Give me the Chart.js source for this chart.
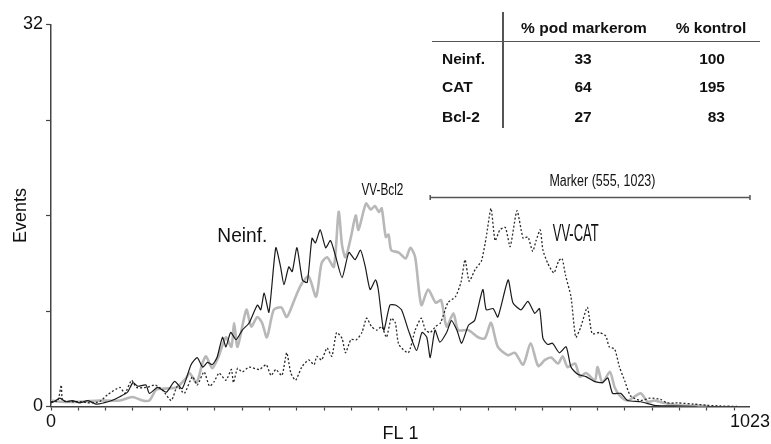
<!DOCTYPE html>
<html>
<head>
<meta charset="utf-8">
<script src="https://cdn.jsdelivr.net/npm/chart.js@4.4.0/dist/chart.umd.min.js"></script>
<style>
  html, body { margin: 0; padding: 0; background: #fff; }
  #wrap { position: relative; width: 771px; height: 444px; overflow: hidden; }
  #chart { position: absolute; left: 0; top: 0; }
  .tbl { position: absolute; font-family: 'Liberation Sans', Arial, sans-serif; font-weight: bold;
         font-size: 15.5px; color: #111; white-space: nowrap; line-height: 16px; }
  .c { transform: translateX(-50%); }
  .r { transform: translateX(-100%); }
  .line { position: absolute; background: #555; }
</style>
</head>
<body>
<div id="wrap">
  <canvas id="chart" width="771" height="444"></canvas>

  <div class="line" style="left:502px; top:12px; width:1.5px; height:116px;"></div>
  <div class="line" style="left:432px; top:40.5px; width:328px; height:1.5px;"></div>

  <div class="tbl c" style="left:584px; top:20px;">% pod markerom</div>
  <div class="tbl c" style="left:711px; top:20px;">% kontrol</div>

  <div class="tbl" style="left:442px; top:51px;">Neinf.</div>
  <div class="tbl c" style="left:583px; top:51px;">33</div>
  <div class="tbl r" style="left:725px; top:51px;">100</div>

  <div class="tbl" style="left:442px; top:79px;">CAT</div>
  <div class="tbl c" style="left:583px; top:79px;">64</div>
  <div class="tbl r" style="left:725px; top:79px;">195</div>

  <div class="tbl" style="left:442px; top:109px;">Bcl-2</div>
  <div class="tbl c" style="left:583px; top:109px;">27</div>
  <div class="tbl r" style="left:725px; top:109px;">83</div>
</div>

<script>
// FL1 histogram: uninfected vs VV-CAT vs VV-Bcl2

// Neinf. (solid black)
const neinfX = [0,7,13,22,31,42,54,66,77,89,100,112,120,127,139,144,156,169,181,192,205,214,222,229,236,243,251,256,263,271,280,290,302,307,312,319,329,336,341,348,353,360,368,375,382,387,394,402,409,416,426,436,445,453,460,467,475,479,487,496,504,513,523,535,543,550,555,562,569,579,586,594,601,611,620,632,637,647,654,669,676,688,698,708,715,720,727,734,744,754,761,771,783,795,807,815,822,834,844,863,883,902,946];
const neinfY = [0.3,0.5,0.7,0.4,0.5,0.3,0.5,0.2,0.3,0.5,0.8,1.2,2.0,1.7,1.8,1.1,1.6,1.2,2.1,1.5,3.5,4.1,3.3,3.7,3.5,4.1,5.8,5.0,6.2,5.6,6.4,7.0,8.5,8.1,9.5,7.9,13.3,11.7,10.2,11.7,11.3,13.3,10.6,10.4,14.1,13.7,14.8,13.3,13.9,12.7,10.8,12.9,12.3,13.1,11.7,9.8,10.6,9.8,6.4,8.5,8.5,8.1,6.4,4.7,6.2,5.8,4.1,6.4,5.4,6.2,7.2,6.4,5.3,6.8,7.2,9.8,8.1,8.2,7.5,10.6,8.7,8.1,8.8,7.8,8.2,5.7,5.2,5.3,4.5,5.0,3.3,2.7,2.5,2.1,2.0,2.4,1.1,1.1,0.5,0.4,0.1,0.05,0];

// VV-CAT (dotted)
const catX = [0,10,15,17,28,42,57,71,83,101,108,118,125,140,152,163,176,185,195,207,214,224,232,239,246,256,264,267,273,280,290,305,315,322,329,338,345,351,358,367,377,385,389,396,404,411,418,426,431,439,447,455,462,469,477,484,491,498,504,509,523,533,542,548,555,563,570,581,592,600,606,612,621,630,637,644,650,657,665,672,682,691,698,705,710,716,720,727,736,743,748,753,761,768,775,785,792,803,812,817,825,832,840,848,863,877,892,902,917,941,960,979,1004];
const catY = [0.4,0.5,1.8,0.5,0.4,0.4,0.3,0.4,1.0,1.6,1.1,2.2,1.6,1.6,1.8,1.4,0.5,1.7,1.1,2.5,1.8,2.9,1.7,2.1,2.8,2.2,3.1,2.0,3.2,2.9,3.3,3.1,3.5,2.6,3.1,2.6,4.5,2.8,2.2,3.3,3.9,3.5,4.2,3.9,4.9,4.2,6.2,5.7,4.5,5.6,5.6,6.2,7.4,6.7,6.4,6.7,5.8,7.4,7.0,5.2,4.5,6.4,7.4,6.4,6.2,6.7,7.0,8.7,9.2,10.4,12.3,10.5,11.5,12.2,14.2,16.6,13.9,14.8,15.0,13.4,16.4,14.1,14.2,13.0,13.9,14.8,13.1,12.0,11.2,12.2,12.4,11.0,9.2,5.8,6.6,8.3,6.1,6.2,5.9,5.0,4.8,3.3,2.1,0.9,0.5,0.7,0.6,0.3,0.3,0.2,0.1,0.05,0];

// VV-Bcl2 (thick grey)
const bcl2X = [0,13,42,71,101,119,134,144,154,166,184,198,203,213,222,227,236,246,256,264,268,273,286,293,302,309,316,326,337,345,356,366,377,388,396,404,414,421,426,431,439,446,450,461,468,474,480,484,490,494,498,509,519,526,533,542,552,563,571,579,589,596,611,625,635,644,654,669,679,691,702,713,723,732,742,749,756,767,774,783,796,800,807,818,825,834,844,863,873,883,897,917,960];
const bcl2Y = [0.5,0.4,0.4,0.5,0.5,0.8,0.5,0.5,1.4,1.5,1.6,2.4,2.8,2.0,3.7,4.2,3.2,4.3,5.8,5.0,7.0,5.0,8.1,6.7,7.5,7.0,5.8,8.1,8.3,7.5,8.9,10.2,10.9,9.2,12.0,12.5,11.7,16.3,13.5,12.5,14.2,16.0,14.8,17.0,16.5,16.8,16.3,16.6,14.2,14.4,13.1,12.9,12.4,13.3,12.5,8.5,9.8,8.7,8.9,6.7,7.8,6.4,6.4,5.8,5.7,7.0,5.0,4.3,4.5,3.5,5.3,3.4,3.9,4.1,3.6,4.2,3.3,3.6,2.5,2.8,2.2,3.3,2.0,2.9,1.6,0.8,0.5,1.1,0.4,0.5,0.3,0.1,0.04];

const xTicks = [0,40,80,120,160,200,240,280,320,360,400,440,480,520,560,600,640,680,720,760,800,840,880,920,960,1000,1023];
const yTicks = [0,8,16,24,32];
const marker = [555, 1023];

const narrow = "'Liberation Sans Narrow', 'Arial Narrow', 'Liberation Sans', Arial, sans-serif";
const axisColor = '#444';

function toPoints(xs, ys) {
    return xs.map((x, i) => ({ x: x, y: ys[i] }));
}

// draws centred text squeezed to a given width (the source uses a condensed face)
function drawText(ctx, text, x, y, size, width) {
    ctx.save();
    ctx.font = size + 'px ' + narrow;
    const w = ctx.measureText(text).width;
    ctx.translate(x, y);
    ctx.scale(width / w, 1);
    ctx.fillStyle = '#111';
    ctx.textAlign = 'center';
    ctx.textBaseline = 'middle';
    ctx.fillText(text, 0, 0);
    ctx.restore();
}

const annotations = {
    id: 'annotations',
    afterDatasetsDraw(chart) {
        const { ctx, scales: { x, y } } = chart;

        // marker bar
        const x0 = x.getPixelForValue(marker[0]);
        const x1 = x.getPixelForValue(marker[1]);
        const yy = y.getPixelForValue(17.5);
        ctx.save();
        ctx.strokeStyle = '#555';
        ctx.lineWidth = 1.5;
        ctx.beginPath();
        ctx.moveTo(x0, yy); ctx.lineTo(x1, yy);
        ctx.moveTo(x0, yy - 2.5); ctx.lineTo(x0, yy + 2.5);
        ctx.moveTo(x1, yy - 2.5); ctx.lineTo(x1, yy + 2.5);
        ctx.stroke();
        ctx.restore();

        drawText(ctx, 'Marker (555, 1023)', x.getPixelForValue(807), y.getPixelForValue(18.8), 16, 106);
        drawText(ctx, 'VV-Bcl2', x.getPixelForValue(485), y.getPixelForValue(18.1), 17, 42);
        drawText(ctx, 'Neinf.', x.getPixelForValue(280), y.getPixelForValue(14.3), 21, 50);
        drawText(ctx, 'VV-CAT', x.getPixelForValue(768), y.getPixelForValue(14.4), 23, 46);
    }
};

new Chart(document.getElementById('chart'), {
    type: 'line',
    data: {
        datasets: [
            {
                label: 'Neinf.',
                data: toPoints(neinfX, neinfY),
                borderColor: '#1a1a1a',
                borderWidth: 1.2,
                tension: 0.2,
                pointRadius: 0,
                fill: false
            },
            {
                label: 'VV-CAT',
                data: toPoints(catX, catY),
                borderColor: '#2a2a2a',
                borderWidth: 1.3,
                borderDash: [2, 2],
                tension: 0.2,
                pointRadius: 0,
                fill: false
            },
            {
                label: 'VV-Bcl2',
                data: toPoints(bcl2X, bcl2Y),
                borderColor: '#b8b8b8',
                borderWidth: 2.6,
                tension: 0.25,
                pointRadius: 0,
                fill: false
            }
        ]
    },
    options: {
        responsive: false,
        animation: false,
        layout: { padding: { left: 0, right: 18, top: 24.5, bottom: 0 } },
        plugins: {
            legend: { display: false },
            tooltip: { enabled: false }
        },
        scales: {
            x: {
                type: 'linear',
                min: 0,
                max: 1023,
                afterFit: s => { s.height = 37.5; },
                afterBuildTicks: s => { s.ticks = xTicks.map(v => ({ value: v })); },
                border: { display: true, color: axisColor, width: 1.5 },
                grid: {
                    drawOnChartArea: false,
                    drawTicks: true,
                    tickLength: 4,
                    tickWidth: 1.2,
                    color: axisColor,
                    tickColor: c => (c.tick && c.tick.value === 1023) ? 'rgba(0,0,0,0)' : axisColor
                },
                ticks: {
                    autoSkip: false,
                    maxRotation: 0,
                    minRotation: 0,
                    padding: 1,
                    color: '#111',
                    font: { family: narrow, size: 18 },
                    callback: v => (v === 0 || v === 1023) ? String(v) : ''
                },
                title: {
                    display: true,
                    text: 'FL 1',
                    color: '#111',
                    font: { family: narrow, size: 18, lineHeight: 1 },
                    padding: { top: 0, bottom: 1 }
                }
            },
            y: {
                min: 0,
                max: 32,
                afterFit: s => { s.width = 51; },
                afterBuildTicks: s => { s.ticks = yTicks.map(v => ({ value: v })); },
                border: { display: true, color: axisColor, width: 1.5 },
                grid: {
                    drawOnChartArea: false,
                    drawTicks: true,
                    tickLength: 5,
                    tickWidth: 1.2,
                    color: axisColor
                },
                ticks: {
                    padding: 3,
                    color: '#111',
                    font: { family: narrow, size: 18 },
                    callback: v => (v === 0 || v === 32) ? String(v) : ''
                },
                title: {
                    display: true,
                    text: 'Events',
                    color: '#111',
                    font: { family: narrow, size: 18, lineHeight: 1 },
                    padding: { top: 12, bottom: 0 }
                }
            }
        }
    },
    plugins: [annotations]
});
</script>
</body>
</html>
